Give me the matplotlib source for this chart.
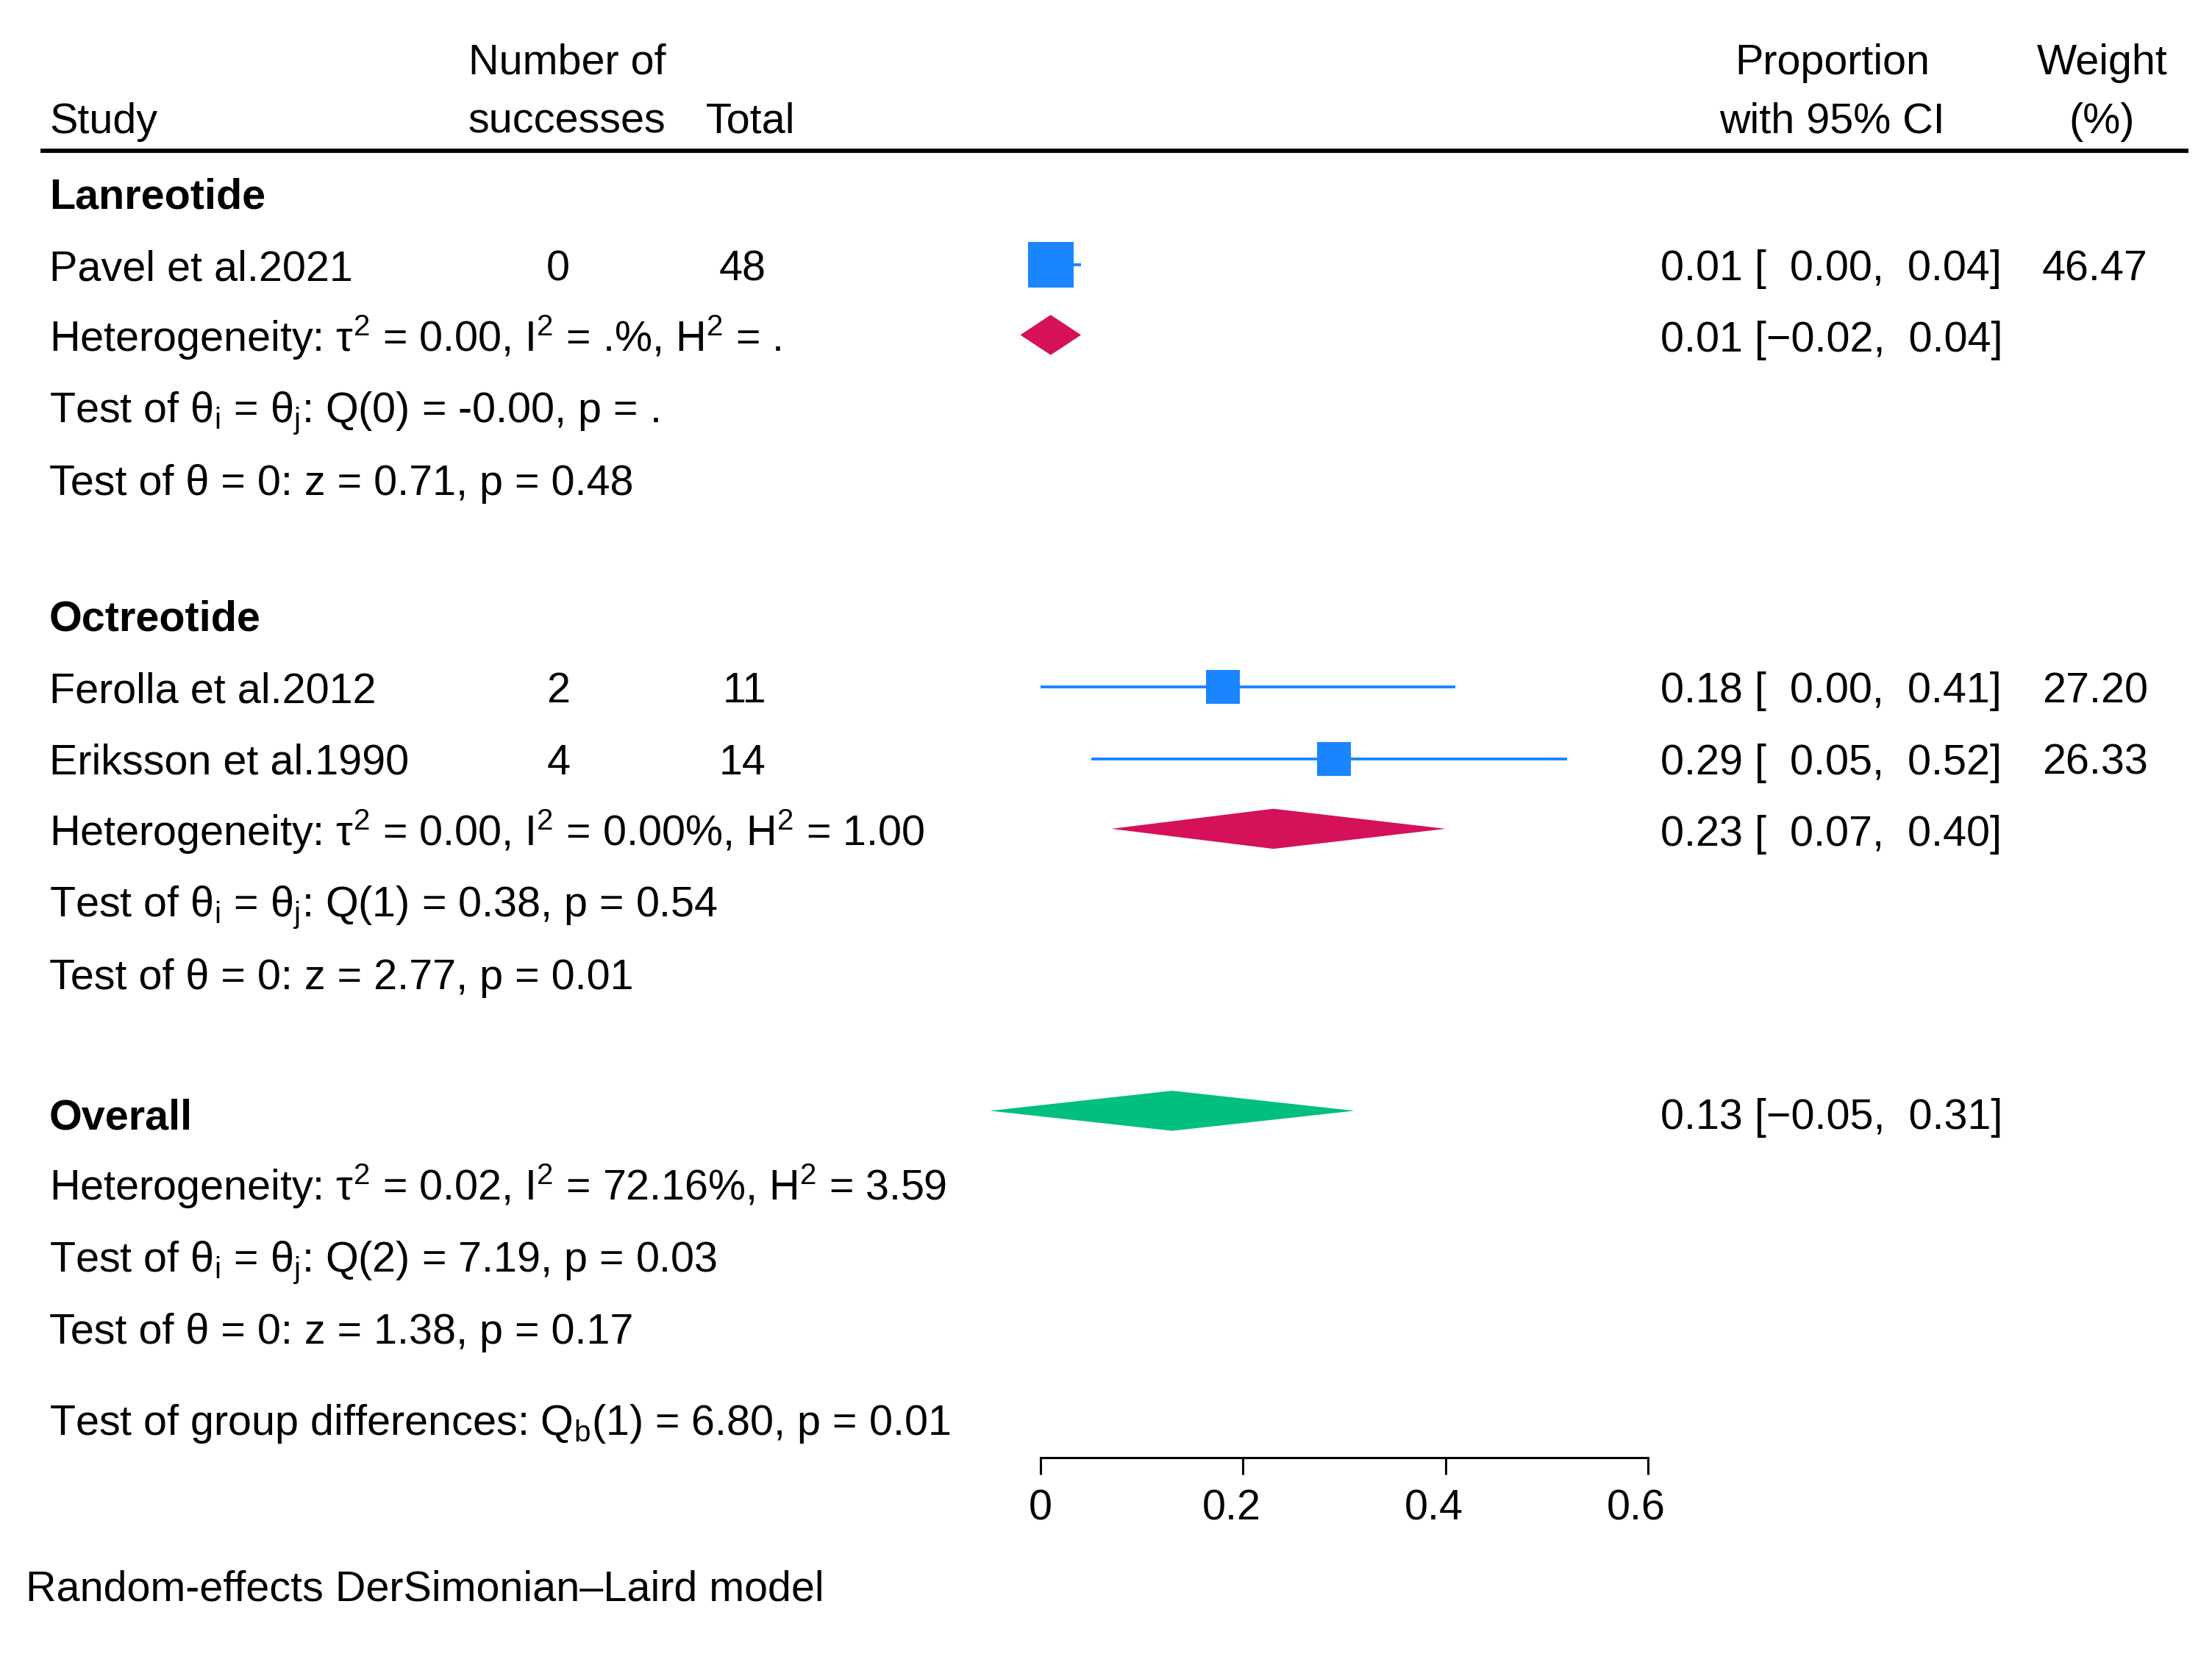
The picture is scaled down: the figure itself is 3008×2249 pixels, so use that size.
import matplotlib
matplotlib.use('Agg')
import matplotlib.pyplot as plt
from matplotlib import transforms
from matplotlib.lines import Line2D

plt.rcParams['font.family'] = ['Liberation Sans', 'DejaVu Sans']
plt.rcParams['mathtext.fontset'] = 'custom'
plt.rcParams['mathtext.rm'] = 'Liberation Sans'
plt.rcParams['mathtext.it'] = 'Liberation Sans:italic'
plt.rcParams['mathtext.bf'] = 'Liberation Sans:bold'

# ---- data ----
group_names = ['Lanreotide', 'Octreotide']
study_names = ['Pavel et al.2021', 'Ferolla et al.2012', 'Eriksson et al.1990']
study_group = [0, 1, 1]
successes = [0, 2, 4]
totals = [48, 11, 14]
prop = [0.01, 0.18, 0.29]
ci_lo = [0.00, 0.00, 0.05]
ci_hi = [0.04, 0.41, 0.52]
weights = [46.47, 27.20, 26.33]

group_prop = [0.01, 0.23]
group_lo = [-0.02, 0.07]
group_hi = [0.04, 0.40]
group_het = ['Heterogeneity: τ$^{2}$ = 0.00, I$^{2}$ = .%, H$^{2}$ = .',
             'Heterogeneity: τ$^{2}$ = 0.00, I$^{2}$ = 0.00%, H$^{2}$ = 1.00']
group_qtest = [r'Test of θ$_{\mathrm{i}}$ = θ$_{\mathrm{j}}$: Q(0) = -0.00, p = .',
               r'Test of θ$_{\mathrm{i}}$ = θ$_{\mathrm{j}}$: Q(1) = 0.38, p = 0.54']
group_ztest = ['Test of θ = 0: z = 0.71, p = 0.48',
               'Test of θ = 0: z = 2.77, p = 0.01']

overall_prop = 0.13
overall_lo = -0.05
overall_hi = 0.31
overall_het = 'Heterogeneity: τ$^{2}$ = 0.02, I$^{2}$ = 72.16%, H$^{2}$ = 3.59'
overall_qtest = r'Test of θ$_{\mathrm{i}}$ = θ$_{\mathrm{j}}$: Q(2) = 7.19, p = 0.03'
overall_ztest = 'Test of θ = 0: z = 1.38, p = 0.17'
group_diff = r'Test of group differences: Q$_{\mathrm{b}}$(1) = 6.80, p = 0.01'
model_note = 'Random-effects DerSimonian–Laird model'

x_ticks = [0, 0.2, 0.4, 0.6]
x_tick_labels = ['0', '0.2', '0.4', '0.6']

# ---- layout ----
BLUE = '#1a85ff'
RED = '#d41159'
GREEN = '#00bf7f'
FS = 20.7
DH = 0.28            # diamond half height (rows)
SQ = 10.5            # marker area per weight unit (pt^2)

group_rows = [1.0, 6.9]
overall_row = 13.86
diff_row = 18.12
axis_row = 18.67
HET_ADJ = -0.05      # mathtext lines sit slightly low

X_STUDY = 0.0223
X_SUCC = 0.2577
X_TOTAL = 0.3463
X_CI = 0.7506
X_W = 0.9710

fig = plt.figure(figsize=(15.04, 11.245), dpi=200)
ax = fig.add_axes([1415 / 3008, 0.0, (2241 - 1415) / 3008, 1.0])
ax.set_xlim(0, 0.6)
ax.set_ylim(21.41, -1.70)
tr = transforms.blended_transform_factory(fig.transFigure, ax.transData)


def put(x, y, s, **kw):
    ax.text(x, y, s, transform=tr, fontsize=FS, va='center_baseline', **kw)


def ci_text(e, lo, hi):
    lo_s = f'{lo:.2f}'.replace('-', '−') if lo < 0 else '  ' + f'{lo:.2f}'
    return f'{e:.2f} [{lo_s},  {hi:.2f}]'


def diamond(y, lo, mid, hi, color):
    ax.fill([lo, mid, hi, mid], [y, y - DH, y, y + DH], color=color,
            lw=0, clip_on=False, zorder=3)


# header
put(X_STUDY, -0.06, 'Study')
put(0.2564, -0.88, 'Number of', ha='center')
put(0.2564, -0.06, 'successes', ha='center')
put(0.3189, -0.06, 'Total')
put(0.8284, -0.88, 'Proportion', ha='center')
put(0.8284, -0.06, 'with 95% CI', ha='center')
put(0.9503, -0.88, 'Weight', ha='center')
put(0.9503, -0.06, '(%)', ha='center')
fig.add_artist(Line2D([30 / 1568, 1550 / 1568], [0.41, 0.41], transform=tr,
                      color='black', lw=2.1))

# groups
for g, gname in enumerate(group_names):
    r = group_rows[g]
    put(X_STUDY, r, gname, fontweight='bold')
    idx = [i for i in range(len(study_names)) if study_group[i] == g]
    for k, i in enumerate(idx):
        y = r + 1 + k
        put(X_STUDY, y, study_names[i])
        put(X_SUCC, y, str(successes[i]), ha='right')
        put(X_TOTAL, y, str(totals[i]), ha='right')
        ax.hlines(y, ci_lo[i], ci_hi[i], color=BLUE, lw=1.4, zorder=2)
        ax.scatter([prop[i]], [y], s=SQ * weights[i], marker='s', color=BLUE,
                   linewidths=0, zorder=4, clip_on=False)
        put(X_CI, y, ci_text(prop[i], ci_lo[i], ci_hi[i]))
        put(X_W, y, f'{weights[i]:.2f}', ha='right')
    y = r + 1 + len(idx)
    put(X_STUDY, y + HET_ADJ, group_het[g])
    diamond(y - 0.02, group_lo[g], group_prop[g], group_hi[g], RED)
    put(X_CI, y, ci_text(group_prop[g], group_lo[g], group_hi[g]))
    put(X_STUDY, y + 1 + HET_ADJ / 2, group_qtest[g])
    put(X_STUDY, y + 2, group_ztest[g])

# overall
put(X_STUDY, overall_row, 'Overall', fontweight='bold')
diamond(overall_row - 0.04, overall_lo, overall_prop, overall_hi, GREEN)
put(X_CI, overall_row, ci_text(overall_prop, overall_lo, overall_hi))
put(X_STUDY, overall_row + 0.99 + HET_ADJ, overall_het)
put(X_STUDY, overall_row + 2.01 + HET_ADJ / 2, overall_qtest)
put(X_STUDY, overall_row + 3.0, overall_ztest)
put(X_STUDY, diff_row, group_diff)
put(0.0115, 20.45, model_note)

# x axis
for s in ['top', 'left', 'right']:
    ax.spines[s].set_visible(False)
ax.spines['bottom'].set_position(('data', axis_row))
ax.spines['bottom'].set_bounds(0, 0.6)
ax.spines['bottom'].set_linewidth(1.1)
ax.set_xticks(x_ticks, labels=x_tick_labels)
ax.tick_params(axis='x', direction='out', length=8.3, width=1.1, pad=7,
               labelsize=FS)
# the tick labels with a decimal part sit a little left of their ticks
shift = transforms.ScaledTranslation(-16 / 200, 0, fig.dpi_scale_trans)
for lab in ax.get_xticklabels():
    if len(lab.get_text()) > 1:
        lab.set_transform(lab.get_transform() + shift)
ax.set_yticks([])
ax.patch.set_visible(False)

fig.savefig('out.png', dpi=200)
